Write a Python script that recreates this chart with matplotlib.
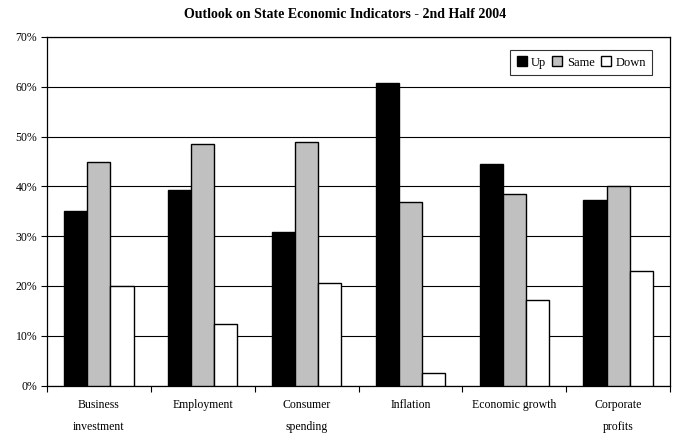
import numpy as np
import matplotlib
matplotlib.use("Agg")
import matplotlib.pyplot as plt
from matplotlib.ticker import PercentFormatter

plt.rcParams['font.family'] = ['Liberation Serif', 'DejaVu Serif']

categories = ["Business\ninvestment", "Employment", "Consumer\nspending",
              "Inflation", "Economic growth", "Corporate\nprofits"]
up = [35.0, 39.2, 30.9, 60.7, 44.4, 37.3]
same = [44.8, 48.5, 48.9, 36.8, 38.4, 40.0]
down = [19.9, 12.3, 20.6, 2.5, 17.2, 22.9]
series = ["Up", "Same", "Down"]
colors = ["#000000", "#C0C0C0", "#FFFFFF"]

fig = plt.figure(figsize=(6.74, 4.34), dpi=100)
ax = fig.add_axes([47/674, 1-385.5/434, (670-47)/674, (385.5-37)/434])

x = np.arange(len(categories))
w = 1/4.5
for i, (vals, name, c) in enumerate(zip([up, same, down], series, colors)):
    ax.bar(x + (i-1)*w, vals, width=w, color=c, edgecolor="black",
           linewidth=1.0, label=name, zorder=3)

ax.set_ylim(0, 70)
ax.set_xlim(-0.5, len(categories)-0.5)
ax.set_yticks(range(0, 71, 10))
ax.yaxis.set_major_formatter(PercentFormatter(decimals=0))
ax.grid(axis="y", color="black", linewidth=0.8, zorder=0)

# category labels centred, tick marks on the boundaries
ax.set_xticks(x)
ax.set_xticklabels(categories, fontsize=8.5, linespacing=2.1)
ax.tick_params(axis="x", which="major", length=0, pad=10)
ax.set_xticks(np.arange(-0.5, len(categories), 1), minor=True)
ax.tick_params(axis="x", which="minor", length=4, width=0.8, direction="out")
ax.tick_params(axis="y", labelsize=8.5, length=4, width=0.8, direction="out", pad=3)

for s in ax.spines.values():
    s.set_linewidth(0.9)

leg = ax.legend(loc="upper right", ncol=3, fontsize=9, frameon=True,
                fancybox=False, edgecolor="black", handlelength=0.8,
                handleheight=0.8, handletextpad=0.35, columnspacing=0.5,
                borderpad=0.5, borderaxespad=0, bbox_to_anchor=(0.971, 0.962))
leg.get_frame().set_linewidth(0.8)

fig.text(345/674, 1-14/434, "Outlook on State Economic Indicators - 2nd Half 2004",
         ha="center", va="center", fontsize=10, fontweight="bold")

fig.savefig("out.png", dpi=100)
